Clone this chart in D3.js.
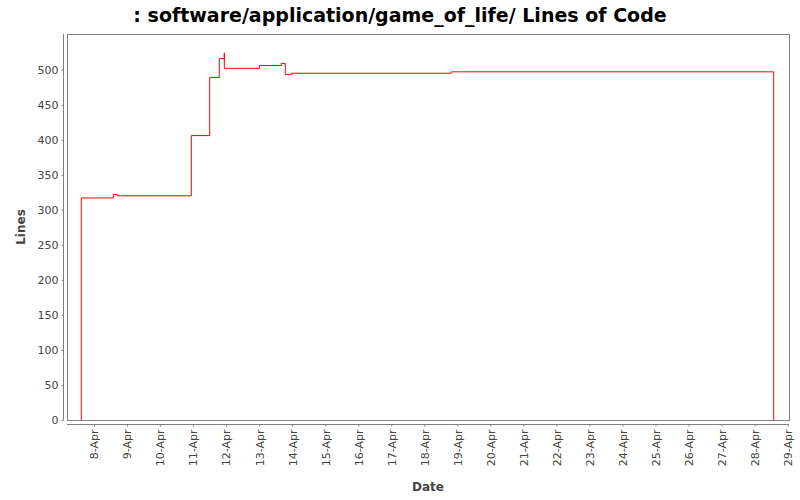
<!DOCTYPE html>
<html>
<head>
<meta charset="utf-8">
<script src="https://cdn.jsdelivr.net/npm/d3@7/dist/d3.min.js"></script>
<style>
  html, body { margin: 0; padding: 0; background: #fff; }
  svg { display: block; }
</style>
</head>
<body>
<svg id="chart" width="800" height="500"></svg>
<script>
// ---- data ----
const titleText = ": software/application/game_of_life/ Lines of Code";
const xAxisLabel = "Date";
const yAxisLabel = "Lines";
const stepTimes = [
  "2009-04-07T14:46", "2009-04-07T14:46", "2009-04-08T14:01", "2009-04-08T16:55", "2009-04-10T22:42",
  "2009-04-11T12:04", "2009-04-11T19:03", "2009-04-11T22:41", "2009-04-11T22:42",
  "2009-04-13T00:07", "2009-04-13T16:06", "2009-04-13T19:00", "2009-04-13T23:21",
  "2009-04-18T19:36", "2009-04-28T13:52"
];
const stepValues = [0, 317, 322, 320, 406, 489, 516, 524, 502, 506, 509, 493, 495, 497, 0];
const yTicks = [0, 50, 100, 150, 200, 250, 300, 350, 400, 450, 500];
const xTickDays = ["2009-04-08", "2009-04-09", "2009-04-10", "2009-04-11", "2009-04-12",
  "2009-04-13", "2009-04-14", "2009-04-15", "2009-04-16", "2009-04-17", "2009-04-18",
  "2009-04-19", "2009-04-20", "2009-04-21", "2009-04-22", "2009-04-23", "2009-04-24",
  "2009-04-25", "2009-04-26", "2009-04-27", "2009-04-28", "2009-04-29"];
const xDomain = ["2009-04-07T04:23", "2009-04-29T01:00"];
const yDomain = [0, 551];

// ---- layout ----
const plot = { left: 67, top: 34, right: 789, bottom: 420 };
const parse = s => new Date(s + (s.length === 10 ? "T00:00:00Z" : ":00Z"));
const data = stepTimes.map((t, i) => ({ t: parse(t), v: stepValues[i] }));

const svg = d3.select("#chart");
const x = d3.scaleUtc().domain(xDomain.map(parse)).range([plot.left, plot.right]);
const y = d3.scaleLinear().domain(yDomain).range([plot.bottom, plot.top]);

const grey = "#808080";
const labelColor = "#444444";
const font = "'DejaVu Sans', sans-serif";

// title
svg.append("text")
  .attr("x", 400).attr("y", 22)
  .attr("text-anchor", "middle")
  .attr("font-family", font).attr("font-weight", "bold").attr("font-size", 19)
  .attr("fill", "#000")
  .text(titleText);

// plot background + outline
svg.append("rect")
  .attr("x", plot.left + 0.5).attr("y", plot.top + 0.5)
  .attr("width", plot.right - plot.left).attr("height", plot.bottom - plot.top)
  .attr("fill", "#fff").attr("stroke", grey).attr("stroke-width", 1);

// y axis (offset 4px)
const yAxis = d3.axisLeft(y).tickValues(yTicks).tickSize(2).tickPadding(3).tickFormat(d3.format("d"));
const gy = svg.append("g").attr("transform", `translate(${plot.left - 3.5},0)`).call(yAxis);
gy.select(".domain").attr("stroke", grey).attr("d", `M0,${plot.top}V${plot.bottom}`);
gy.selectAll(".tick line").attr("stroke", grey);
gy.selectAll(".tick text").attr("font-family", font).attr("font-size", 11).attr("fill", labelColor);

// x axis (offset 4px)
const fmt = d3.utcFormat("%-d-%b");
const xAxis = d3.axisBottom(x).tickValues(xTickDays.map(parse)).tickSize(2).tickFormat(fmt);
const gx = svg.append("g").attr("transform", `translate(0,${plot.bottom + 4.5})`).call(xAxis);
gx.select(".domain").attr("stroke", grey).attr("d", `M${plot.left},0H${plot.right}`);
gx.selectAll(".tick line").attr("stroke", grey);
gx.selectAll(".tick text")
  .attr("font-family", font).attr("font-size", 11).attr("fill", labelColor)
  .attr("transform", "rotate(-90)")
  .attr("text-anchor", "end")
  .attr("x", -5).attr("y", 0).attr("dy", "0.35em");

// axis labels
svg.append("text")
  .attr("x", (plot.left + plot.right) / 2).attr("y", 491)
  .attr("text-anchor", "middle")
  .attr("font-family", font).attr("font-weight", "bold").attr("font-size", 12)
  .attr("fill", labelColor).text(xAxisLabel);
svg.append("text")
  .attr("transform", `translate(25,${(plot.top + plot.bottom) / 2}) rotate(-90)`)
  .attr("text-anchor", "middle")
  .attr("font-family", font).attr("font-weight", "bold").attr("font-size", 12)
  .attr("fill", labelColor).text(yAxisLabel);

// step line
const line = d3.line().curve(d3.curveStepAfter).x(d => x(d.t)).y(d => y(d.v));
svg.append("path")
  .datum(data)
  .attr("d", line)
  .attr("fill", "none")
  .attr("stroke", "#ff0000")
  .attr("stroke-width", 1);
</script>
</body>
</html>
